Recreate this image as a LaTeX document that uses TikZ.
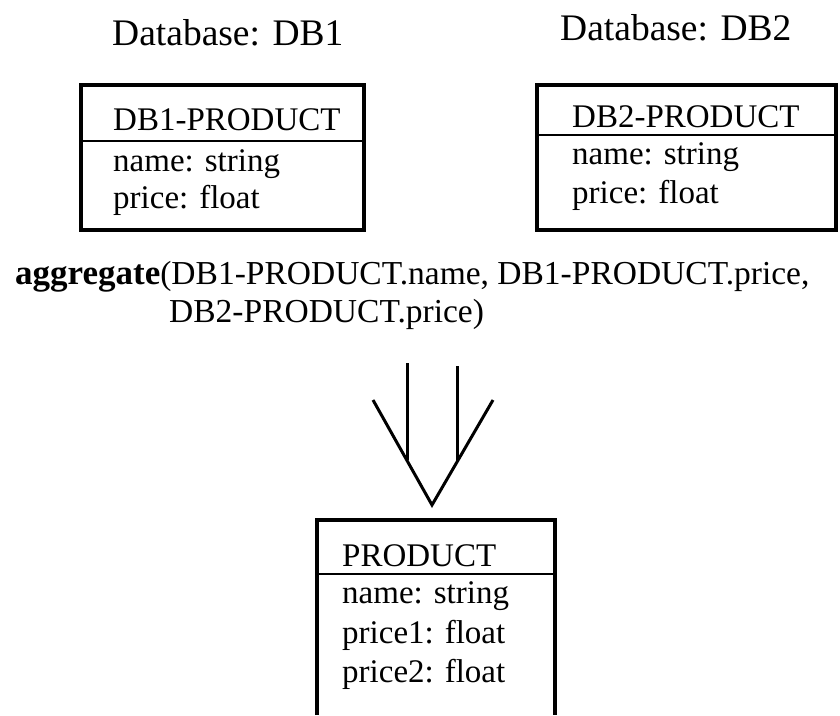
\documentclass[tikz,border=0pt]{standalone}
\usepackage{fontspec}
\setmainfont{Liberation Serif}
\begin{document}
\begin{tikzpicture}[x=1pt,y=-1pt,
  table/.style={draw, line width=4.5pt, inner sep=0pt, outer sep=0pt, anchor=north west},
  divider/.style={line width=2.5pt},
  boxline/.style={line width=4.5pt},
  field/.style={anchor=base west, inner sep=0pt, font=\fontsize{33}{38}\selectfont},
  title/.style={anchor=base west, inner sep=0pt, font=\fontsize{37.5}{42}\selectfont},
  flow/.style={line width=3pt}]
\useasboundingbox[fill=white] (0,0) rectangle (840,715);

% database titles
\node[title] (t1) at (112,45) {Database: DB1};
\node[title] (t2) at (560,40) {Database: DB2};

% DB1 class box
\node[table, minimum width=283pt, minimum height=145pt] (db1) at (81,85) {};
\coordinate (d1l) at (81,141);
\coordinate (d1r) at (364,141);
\draw[divider] (d1l) -- (d1r);
\node[field] (db1n) at (113,130) {DB1-PRODUCT};
\node[field] (db1a) at (113,171) {name: string};
\node[field] (db1b) at (113,208) {price: float};

% DB2 class box
\node[table, minimum width=299pt, minimum height=145pt] (db2) at (537,85) {};
\coordinate (d2l) at (537,135);
\coordinate (d2r) at (836,135);
\draw[divider] (d2l) -- (d2r);
\node[field] (db2n) at (572,127) {DB2-PRODUCT};
\node[field] (db2a) at (572,164) {name: string};
\node[field] (db2b) at (572,203) {price: float};

% aggregation expression
\node[field, font=\fontsize{33.5}{38}\selectfont] (agg1) at (15,284)
  {{\fontsize{35}{38}\selectfont\bfseries aggregate}(DB1-PRODUCT.name, DB1-PRODUCT.price,};
\node[field, font=\fontsize{33.5}{38}\selectfont] (agg2) at (169,322) {DB2-PRODUCT.price)};

% merge arrow
\coordinate (s1) at (407,363);
\coordinate (e1) at (407,460);
\coordinate (s2) at (457,366);
\coordinate (e2) at (457,462);
\coordinate (lt) at (373,400);
\coordinate (rt) at (493,400);
\coordinate (apex) at (432,505);
\draw[flow] (s1) -- (e1);
\draw[flow] (s2) -- (e2);
\draw[flow] (lt) -- (apex) -- (rt);

% resulting PRODUCT class box (continues below the page)
\coordinate (pbl) at (317,715);
\coordinate (ptl) at (317,520);
\coordinate (ptr) at (555,520);
\coordinate (pbr) at (555,715);
\draw[boxline] (pbl) -- (ptl) -- (ptr) -- (pbr);
\coordinate (pdl) at (317,574);
\coordinate (pdr) at (555,574);
\draw[divider] (pdl) -- (pdr);
\node[field] (pn) at (342,566) {PRODUCT};
\node[field] (pa) at (342,603) {name: string};
\node[field] (pb) at (342,643) {price1: float};
\node[field] (pc) at (342,682) {price2: float};
\end{tikzpicture}
\end{document}
